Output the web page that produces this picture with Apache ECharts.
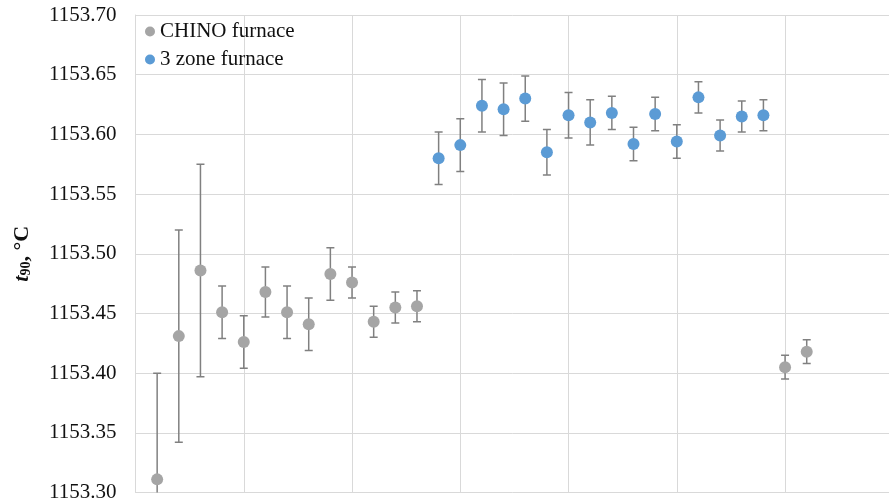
<!DOCTYPE html>
<html>
<head>
<meta charset="utf-8">
<script src="https://cdn.jsdelivr.net/npm/echarts@6/dist/echarts.min.js"></script>
<style>
html,body{margin:0;padding:0;background:#fff;}
#chart{width:889px;height:503px;}
</style>
</head>
<body>
<div id="chart"></div>
<script>
const seriesNames = ['CHINO furnace', '3 zone furnace'];
const yTicks = [1153.30, 1153.35, 1153.40, 1153.45, 1153.50, 1153.55, 1153.60, 1153.65, 1153.70];

const chinoX = [1, 2, 3, 4, 5, 6, 7, 8, 9, 10, 11, 12, 13, 30, 31];
const chinoY = [1153.311, 1153.431, 1153.486, 1153.451, 1153.426, 1153.468, 1153.451, 1153.441, 1153.483, 1153.476, 1153.443, 1153.455, 1153.456, 1153.405, 1153.418];
const chinoErr = [0.089, 0.089, 0.089, 0.022, 0.022, 0.021, 0.022, 0.022, 0.022, 0.013, 0.013, 0.013, 0.013, 0.010, 0.010];

const zoneX = [14, 15, 16, 17, 18, 19, 20, 21, 22, 23, 24, 25, 26, 27, 28, 29];
const zoneY = [1153.580, 1153.591, 1153.624, 1153.621, 1153.630, 1153.585, 1153.616, 1153.610, 1153.618, 1153.592, 1153.617, 1153.594, 1153.631, 1153.599, 1153.615, 1153.616];
const zoneErr = [0.022, 0.022, 0.022, 0.022, 0.019, 0.019, 0.019, 0.019, 0.014, 0.014, 0.014, 0.014, 0.013, 0.013, 0.013, 0.013];

const chart = echarts.init(document.getElementById('chart'));

function pts(xs, ys) { return xs.map((x, i) => [x, ys[i]]); }
function errs(xs, ys, es) { return xs.map((x, i) => [x, ys[i] - es[i], ys[i] + es[i]]); }

const errData = errs(chinoX, chinoY, chinoErr).concat(errs(zoneX, zoneY, zoneErr));

function renderErr(params, api) {
  const x = api.value(0);
  const lo = api.coord([x, api.value(1)]);
  const hi = api.coord([x, api.value(2)]);
  const hw = 4;
  const style = { stroke: '#808080', lineWidth: 1.5, fill: null };
  return {
    type: 'group',
    children: [
      { type: 'line', shape: { x1: lo[0], y1: lo[1], x2: hi[0], y2: hi[1] }, style: style },
      { type: 'line', shape: { x1: hi[0] - hw, y1: hi[1], x2: hi[0] + hw, y2: hi[1] }, style: style },
      { type: 'line', shape: { x1: lo[0] - hw, y1: lo[1], x2: lo[0] + hw, y2: lo[1] }, style: style }
    ]
  };
}

const serif = '"Liberation Serif", "Times New Roman", serif';

chart.setOption({
  animation: false,
  backgroundColor: '#fff',
  grid: { left: 135.5, right: 0, top: 15, bottom: 10.5, containLabel: false },
  legend: {
    data: seriesNames,
    orient: 'vertical',
    left: 140,
    top: 16,
    icon: 'circle',
    itemWidth: 10,
    itemHeight: 10,
    itemGap: 7,
    textStyle: { fontFamily: serif, fontSize: 21, color: '#111' }
  },
  xAxis: {
    type: 'value',
    min: 0,
    max: 34.8,
    interval: 5,
    axisLine: { show: false },
    axisTick: { show: false },
    axisLabel: { show: false },
    splitLine: { show: true, lineStyle: { color: '#d9d9d9', width: 1 } }
  },
  yAxis: {
    type: 'value',
    min: yTicks[0],
    max: yTicks[yTicks.length - 1],
    interval: 0.05,
    axisLine: { show: true, lineStyle: { color: '#d9d9d9', width: 1 } },
    axisTick: { show: false },
    axisLabel: {
      fontFamily: serif, fontSize: 21, color: '#111', margin: 19,
      formatter: v => v.toFixed(2)
    },
    splitLine: { show: true, lineStyle: { color: '#d9d9d9', width: 1 } },
    name: '{t|t}{s|90}{n|, °C}',
    nameLocation: 'middle',
    nameGap: 102,
    nameTextStyle: {
      fontFamily: serif,
      color: '#111',
      rich: {
        t: { fontFamily: serif, fontSize: 22, fontWeight: 'bold', fontStyle: 'italic', color: '#111' },
        s: { fontFamily: serif, fontSize: 14, fontWeight: 'bold', color: '#111', verticalAlign: 'bottom', padding: [8, 0, 0, 0] },
        n: { fontFamily: serif, fontSize: 22, fontWeight: 'bold', color: '#111' }
      }
    }
  },
  series: [
    {
      type: 'custom',
      name: 'err',
      renderItem: renderErr,
      data: errData,
      encode: { x: 0, y: [1, 2] },
      clip: true,
      z: 1
    },
    {
      type: 'scatter',
      name: seriesNames[0],
      data: pts(chinoX, chinoY),
      symbol: 'circle',
      symbolSize: 12,
      itemStyle: { color: '#a5a5a5', opacity: 1 },
      z: 3
    },
    {
      type: 'scatter',
      name: seriesNames[1],
      data: pts(zoneX, zoneY),
      symbol: 'circle',
      symbolSize: 12,
      itemStyle: { color: '#5b9bd5', opacity: 1 },
      z: 3
    }
  ]
});
</script>
</body>
</html>
